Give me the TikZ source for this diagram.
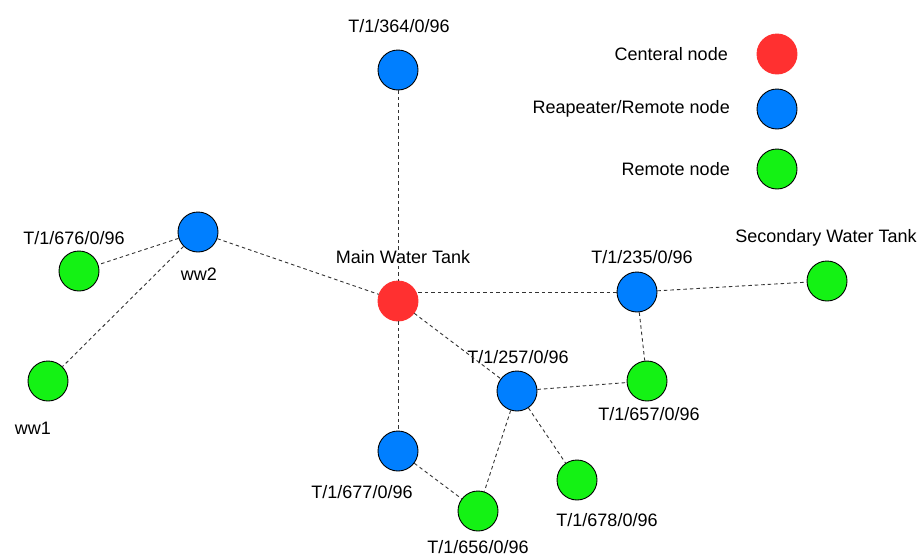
\documentclass[tikz,border=0pt]{standalone}
\usepackage{fontspec}
\setmainfont{Liberation Sans}
\definecolor{cred}{RGB}{255,48,48}
\definecolor{cblue}{RGB}{0,127,255}
\definecolor{cgreen}{RGB}{20,242,20}
\begin{document}
\begin{tikzpicture}[x=1pt,y=-1pt,
  nd/.style={circle,minimum size=40pt,inner sep=0pt,line width=0.9pt},
  rednd/.style={nd,fill=cred,draw=cred},
  bluend/.style={nd,fill=cblue,draw=black},
  greennd/.style={nd,fill=cgreen,draw=black},
  lbl/.style={font=\fontsize{18}{21}\selectfont,inner sep=0pt},
  link/.style={dashed,dash pattern=on 3.5pt off 3pt,line width=0.9pt,draw=black!80}]
\useasboundingbox (0,0) rectangle (921,557);
% nodes
\node[bluend] (n364) at (398,70) {};
\node[lbl] (l364) at (399,26) {T/1/364/0/96};
\node[rednd] (main) at (398,301) {};
\node[lbl] (lmain) at (403,257) {Main Water Tank};
\node[bluend] (ww2) at (198,232) {};
\node[lbl] (lww2) at (199,274) {ww2};
\node[greennd] (n676) at (79,271) {};
\node[lbl] (l676) at (74,238) {T/1/676/0/96};
\node[greennd] (ww1) at (48,381) {};
\node[lbl] (lww1) at (33,428) {ww1};
\node[bluend] (n235) at (637,292) {};
\node[lbl] (l235) at (642,257) {T/1/235/0/96};
\node[greennd] (sec) at (827,281) {};
\node[lbl] (lsec) at (826,238) {Secondary Water Tank};
\node[bluend] (n257) at (517,391) {};
\node[lbl] (l257) at (518,357) {T/1/257/0/96};
\node[greennd] (n657) at (647,381) {};
\node[lbl] (l657) at (649,414) {T/1/657/0/96};
\node[bluend] (n677) at (398,451) {};
\node[lbl] (l677) at (362,492) {T/1/677/0/96};
\node[greennd] (n656) at (478,511) {};
\node[lbl] (l656) at (478,547) {T/1/656/0/96};
\node[greennd] (n678) at (577,480) {};
\node[lbl] (l678) at (607,520) {T/1/678/0/96};
% legend
\node[rednd] (legr) at (777,54) {};
\node[lbl,anchor=east] (llegr) at (728,54) {Centeral node};
\node[bluend] (legb) at (777,109) {};
\node[lbl,anchor=east] (llegb) at (730,109) {Reapeater/Remote node};
\node[greennd] (legg) at (777,169) {};
\node[lbl,anchor=east] (llegg) at (730,169) {Remote node};
% links
\draw[link] (n364) -- (main);
\draw[link] (ww2) -- (main);
\draw[link] (ww2) -- (n676);
\draw[link] (ww2) -- (ww1);
\draw[link] (n235.west -| main.east) -- (n235.west);
\draw[link] (main) -- (n257);
\draw[link] (main) -- (n677);
\draw[link] (n235) -- (sec);
\draw[link] (n235) -- (n657);
\draw[link] (n257) -- (n657);
\draw[link] (n257) -- (n656);
\draw[link] (n257) -- (n678);
\draw[link] (n677) -- (n656);
\end{tikzpicture}
\end{document}
